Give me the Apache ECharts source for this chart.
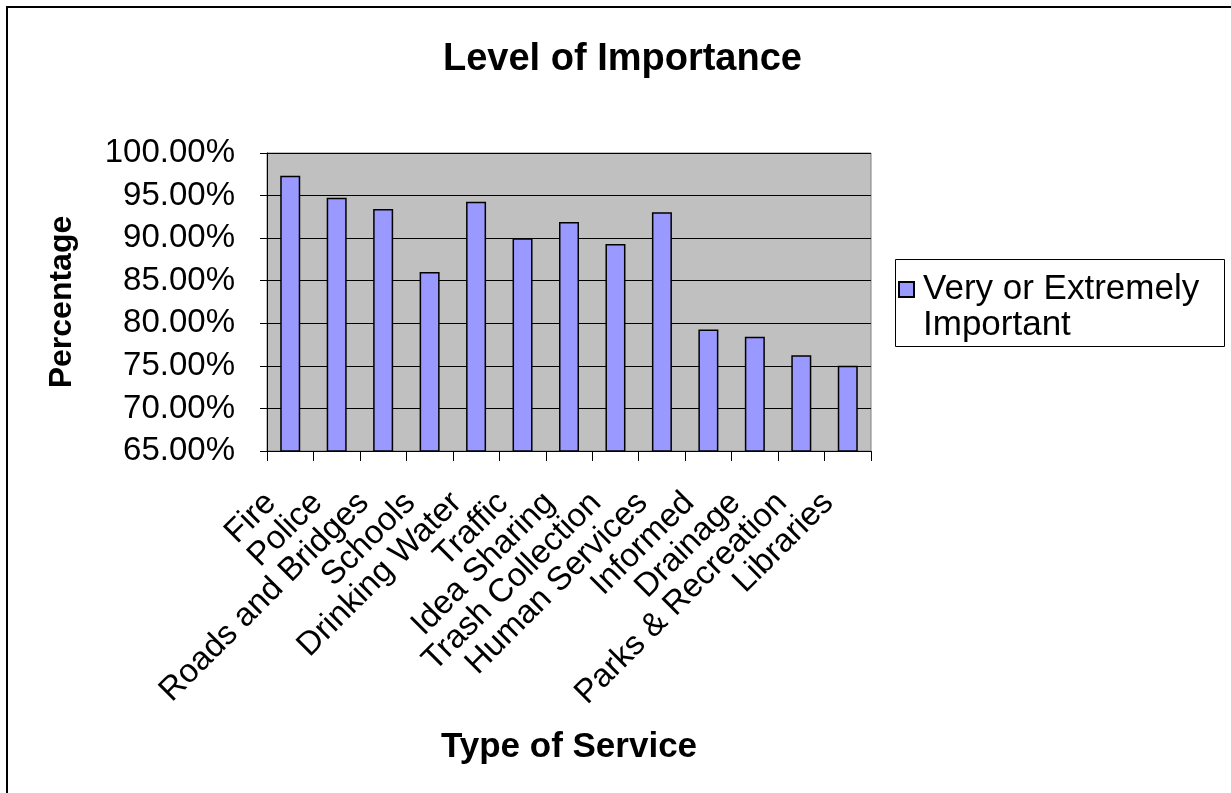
<!DOCTYPE html>
<html>
<head>
<meta charset="utf-8">
<script src="https://cdn.jsdelivr.net/npm/echarts@6/dist/echarts.min.js"></script>
<style>
html,body{margin:0;padding:0;background:#fff;}
#c{width:1231px;height:793px;}
</style>
</head>
<body>
<div id="c"></div>
<script>
const categories = ["Fire","Police","Roads and Bridges","Schools","Drinking Water","Traffic","Idea Sharing","Trash Collection","Human Services","Informed","Drainage","Parks & Recreation","Libraries"];
const seriesName = "Very or Extremely Important";
const legendLines = ["Very or Extremely", "Important"];
const values = [97.33, 94.75, 93.42, 86.02, 94.28, 90.0, 91.89, 89.31, 93.03, 79.28, 78.41, 76.26, 75.0];
const yTicks = {min: 65, max: 100, interval: 5};

const FONT = "Liberation Sans, Arial, sans-serif";
const chart = echarts.init(document.getElementById('c'), null, {renderer: 'canvas'});
chart.setOption({
  backgroundColor: '#ffffff',
  animation: false,
  title: {
    text: 'Level of Importance',
    left: 438, top: 36,
    textStyle: {fontFamily: FONT, fontWeight: 'bold', fontSize: 38, color: '#000'}
  },
  graphic: [
    {type: 'rect', shape: {x: 7, y: 7, width: 1300, height: 900}, style: {fill: 'none', stroke: '#000', lineWidth: 2}, z: 100},
    {type: 'rect', shape: {x: 895.5, y: 259.5, width: 329, height: 87}, style: {fill: '#fff', stroke: '#000', lineWidth: 1}, z: 0}
  ],
  legend: {
    left: 898, top: 236,
    padding: 0,
    itemWidth: 15, itemHeight: 15,
    itemGap: 0,
    icon: 'rect',
    formatter: function(n){ return '{s| }\n{t|' + legendLines[0] + '}\n{t|' + legendLines[1] + '}'; },
    textStyle: {
      fontFamily: FONT, fontSize: 35, color: '#000',
      rich: {
        s: {fontFamily: FONT, fontSize: 35, lineHeight: 36},
        t: {fontFamily: FONT, fontSize: 35, lineHeight: 36, color: '#000', padding: [0, 0, 0, 4]}
      }
    },
    z: 5
  },
  grid: {
    left: 267, top: 153, right: 360, bottom: 342,
    show: true, backgroundColor: '#C0C0C0', borderColor: '#808080', borderWidth: 1,
    containLabel: false
  },
  xAxis: {
    type: 'category',
    data: categories,
    name: 'Type of Service',
    nameLocation: 'middle',
    nameGap: 279,
    nameTextStyle: {fontFamily: FONT, fontWeight: 'bold', fontSize: 35, color: '#000'},
    axisLine: {lineStyle: {color: '#000', width: 1}},
    axisTick: {show: true, alignWithLabel: false, length: 10, lineStyle: {color: '#000'}},
    axisLabel: {
      interval: 0, rotate: 45, margin: 4,
      align: 'right', verticalAlign: 'top',
      padding: [0, 44, 0, 0],
      fontFamily: FONT, fontSize: 33, color: '#000'
    },
    splitLine: {show: false}
  },
  yAxis: {
    type: 'value',
    min: yTicks.min, max: yTicks.max, interval: yTicks.interval,
    name: 'Percentage',
    nameLocation: 'middle',
    nameGap: 189,
    nameTextStyle: {fontFamily: FONT, fontWeight: 'bold', fontSize: 32, color: '#000'},
    axisLine: {show: true, lineStyle: {color: '#000', width: 1}},
    axisTick: {show: true, length: 7, lineStyle: {color: '#000'}},
    axisLabel: {
      margin: 32,
      formatter: function(v){ return v.toFixed(2) + '%'; },
      fontFamily: FONT, fontSize: 33, color: '#000'
    },
    splitLine: {show: true, lineStyle: {color: '#000', width: 1}}
  },
  series: [{
    name: seriesName,
    type: 'bar',
    data: values,
    barWidth: 20,
    itemStyle: {color: '#9999FF', borderColor: '#000', borderWidth: 1.5}
  }]
});
</script>
</body>
</html>
